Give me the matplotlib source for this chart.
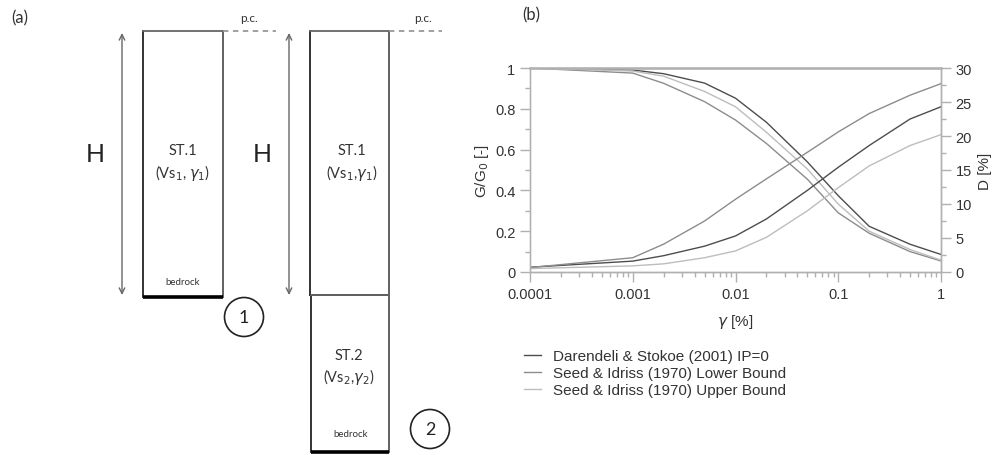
import numpy as np
import matplotlib
matplotlib.use('Agg')
import matplotlib.pyplot as plt
from matplotlib.patches import Circle, FancyArrowPatch
from matplotlib.ticker import FixedLocator, NullFormatter

# strain levels [%]
strain = [0.0001, 0.001, 0.002, 0.005, 0.01, 0.02, 0.05, 0.1, 0.2, 0.5, 1.0]

# G/G0 curves
gg_darendeli = [1.0, 0.99, 0.972, 0.926, 0.852, 0.734, 0.54, 0.374, 0.224, 0.136, 0.086]
gg_seed_lower = [1.0, 0.975, 0.925, 0.835, 0.745, 0.63, 0.455, 0.29, 0.19, 0.10, 0.054]
gg_seed_upper = [1.0, 0.985, 0.96, 0.885, 0.81, 0.685, 0.505, 0.333, 0.2, 0.11, 0.058]

# damping curves [%]
d_darendeli = [0.7, 1.6, 2.4, 3.8, 5.3, 7.8, 12.0, 15.4, 18.6, 22.5, 24.3]
d_seed_lower = [0.65, 2.1, 4.1, 7.5, 10.7, 13.7, 17.6, 20.6, 23.3, 26.0, 27.7]
d_seed_upper = [0.5, 0.9, 1.2, 2.1, 3.1, 5.1, 9.0, 12.4, 15.6, 18.6, 20.2]

names = ['Darendeli & Stokoe (2001) IP=0',
         'Seed & Idriss (1970) Lower Bound',
         'Seed & Idriss (1970) Upper Bound']
colors = ['#4d4d4d', '#8c8c8c', '#bdbdbd']

W, H = 1001, 456
fig = plt.figure(figsize=(W/100, H/100), dpi=100)

# ---- panel (a): schematic in pixel coords
ax_a = fig.add_axes([0, 0, 1, 1])
ax_a.set_xlim(0, W)
ax_a.set_ylim(H, 0)
ax_a.axis('off')
ax_a.patch.set_visible(False)
fa = 'Lato'
ink = '#333333'

def box(x0, x1, y0, y1, thick_bottom=True):
    ax_a.plot([x0, x0], [y0, y1], color='#222222', lw=1.3)
    ax_a.plot([x1, x1], [y0, y1], color='#555555', lw=1.3)
    ax_a.plot([x0, x1], [y0, y0], color='#666666', lw=1.3)
    if thick_bottom:
        ax_a.plot([x0, x1], [y1, y1], color='black', lw=2.6, solid_capstyle='butt')
    else:
        ax_a.plot([x0, x1], [y1, y1], color='#222222', lw=1.3)

def harrow(x, y0, y1):
    ax_a.add_patch(FancyArrowPatch((x, y0), (x, y1), arrowstyle='<->', mutation_scale=10,
                                   color='#666666', lw=1.0, shrinkA=0, shrinkB=0))

ax_a.text(11, 18, '(a)', fontsize=12, family=fa, color=ink, va='center')

# column 1
box(143, 223, 32, 298)
ax_a.plot([223, 276], [32, 32], color='#999999', lw=1.3, ls=(0, (3, 2.5)))
ax_a.text(249, 19, 'p.c.', fontsize=8.5, family=fa, color=ink, ha='center', va='center')
harrow(122, 34, 296)
ax_a.text(95, 155, 'H', fontsize=18, family=fa, color='#222222', ha='center', va='center')
ax_a.text(183, 151, 'ST.1', fontsize=10.5, family=fa, color=ink, ha='center', va='center')
ax_a.text(183, 173, r'(Vs$_1$, $\gamma_1$)', fontsize=10.5, family=fa, color=ink, ha='center', va='center')
ax_a.text(183, 283, 'bedrock', fontsize=7, family=fa, color=ink, ha='center', va='center')
ax_a.add_patch(Circle((244, 318), 19.5, fill=False, ec='#222222', lw=1.2))
ax_a.text(244, 318, '1', fontsize=13, family=fa, color='#222222', ha='center', va='center')

# column 2
box(310, 389, 32, 296, thick_bottom=False)
box(311, 389, 296, 453)
ax_a.plot([389, 442], [32, 32], color='#999999', lw=1.3, ls=(0, (3, 2.5)))
ax_a.text(423, 19, 'p.c.', fontsize=8.5, family=fa, color=ink, ha='center', va='center')
harrow(289, 34, 296)
ax_a.text(262, 155, 'H', fontsize=18, family=fa, color='#222222', ha='center', va='center')
ax_a.text(352, 151, 'ST.1', fontsize=10.5, family=fa, color=ink, ha='center', va='center')
ax_a.text(352, 173, r'(Vs$_1$,$\gamma_1$)', fontsize=10.5, family=fa, color=ink, ha='center', va='center')
ax_a.text(349, 356, 'ST.2', fontsize=10.5, family=fa, color=ink, ha='center', va='center')
ax_a.text(349, 377, r'(Vs$_2$,$\gamma_2$)', fontsize=10.5, family=fa, color=ink, ha='center', va='center')
ax_a.text(351, 435, 'bedrock', fontsize=7, family=fa, color=ink, ha='center', va='center')
ax_a.add_patch(Circle((430, 430), 19.5, fill=False, ec='#222222', lw=1.2))
ax_a.text(430, 430, '2', fontsize=13, family=fa, color='#222222', ha='center', va='center')

# ---- panel (b): modulus reduction and damping
l, r, t, b = 530, 941, 69, 273
ax = fig.add_axes([l/W, 1 - b/H, (r - l)/W, (b - t)/H])
ax2 = ax.twinx()
fb = 'Liberation Sans'

gg = [gg_darendeli, gg_seed_lower, gg_seed_upper]
dd = [d_darendeli, d_seed_lower, d_seed_upper]
for k in range(3):
    ax.plot(strain, gg[k], color=colors[k], lw=1.0, label=names[k])
    ax2.plot(strain, dd[k], color=colors[k], lw=1.0)

ax.set_xscale('log')
ax.set_xlim(1e-4, 1)
ax.set_ylim(0, 1)
ax2.set_ylim(0, 30)
ax.set_yticks([0, 0.2, 0.4, 0.6, 0.8, 1.0])
ax.set_yticklabels(['0', '0.2', '0.4', '0.6', '0.8', '1'])
ax.yaxis.set_minor_locator(FixedLocator(np.arange(0.1, 1.0, 0.2)))
ax2.set_yticks(np.arange(0, 31, 5))
ax2.yaxis.set_minor_locator(FixedLocator(np.arange(2.5, 30, 5)))
ax.set_xticks([1e-4, 1e-3, 1e-2, 1e-1, 1])
ax.set_xticklabels(['0.0001', '0.001', '0.01', '0.1', '1'])
ax.xaxis.set_minor_formatter(NullFormatter())

sp_col = '#b0b0b0'
for a in (ax, ax2):
    for s in a.spines.values():
        s.set_color(sp_col)
        s.set_linewidth(1.0)
ax2.spines['top'].set_linewidth(1.8)
ax.spines['left'].set_color('#d0d0d0')
ax.tick_params(axis='both', which='major', length=7, width=1, color=sp_col,
               labelsize=10.5, labelcolor='#333333', direction='out')
ax.tick_params(axis='both', which='minor', length=3.5, width=1, color=sp_col, direction='out')
ax2.tick_params(axis='y', which='major', length=7, width=1, color=sp_col,
                labelsize=10.5, labelcolor='#333333', direction='out')
ax2.tick_params(axis='y', which='minor', length=3.5, width=1, color=sp_col, direction='out')
for lab in ax.get_xticklabels() + ax.get_yticklabels() + ax2.get_yticklabels():
    lab.set_family(fb)

ax.set_ylabel(r'G/G$_0$ [-]', fontsize=11, family=fb, color='#333333', labelpad=3)
ax2.set_ylabel('D [%]', fontsize=11, family=fb, color='#333333', labelpad=4)
ax.set_xlabel(r'$\gamma$ [%]', fontsize=11, family=fb, color='#333333', labelpad=8)

fig.text(522/W, 1 - 15/H, '(b)', fontsize=12, family=fa, color=ink, va='center')

leg = ax.legend(loc='upper left', bbox_to_anchor=(518/W, 1 - 344/H), bbox_transform=fig.transFigure,
                frameon=False, fontsize=11, handlelength=1.1, handletextpad=0.8,
                labelspacing=0.2, borderaxespad=0)
for txt in leg.get_texts():
    txt.set_family(fb)
    txt.set_color('#333333')

fig.savefig('out.png', dpi=100)
